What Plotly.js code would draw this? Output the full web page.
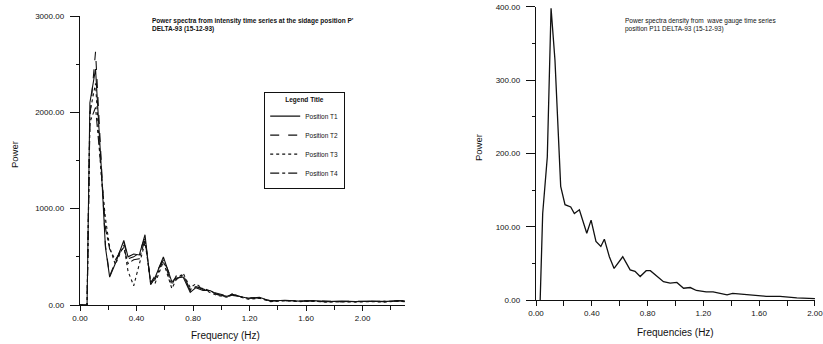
<!DOCTYPE html>
<html>
<head>
<meta charset="utf-8">
<script src="https://cdn.plot.ly/plotly-3.0.1.min.js"></script>
<style>html,body{margin:0;padding:0;background:#fff;}#chart{width:823px;height:344px;}</style>
</head>
<body>
<div id="chart"></div>
<script>
// ---- Left chart data: power spectra from intensity time series ----
const freqLeft = [0.00, 0.05, 0.07, 0.11, 0.15, 0.18, 0.21, 0.25, 0.31, 0.34, 0.38, 0.42, 0.46, 0.50, 0.53, 0.59, 0.65, 0.68, 0.73, 0.78, 0.82, 0.87, 0.92, 0.97, 1.04, 1.08, 1.14, 1.19, 1.27, 1.35, 1.45, 1.55, 1.65, 1.75, 1.85, 1.95, 2.05, 2.15, 2.25, 2.30];
const powerT1 = [0, 0, 2100, 2450, 1440, 600, 290, 430, 670, 500, 530, 520, 730, 210, 280, 500, 240, 280, 290, 130, 180, 150, 150, 110, 90, 110, 85, 70, 80, 40, 50, 40, 45, 35, 40, 35, 40, 35, 45, 40];
const powerT2 = [0, 0, 1950, 2630, 1500, 620, 300, 450, 650, 480, 500, 540, 700, 230, 300, 480, 260, 270, 300, 150, 200, 160, 140, 120, 95, 100, 90, 75, 70, 45, 45, 45, 40, 40, 35, 40, 35, 40, 40, 45];
const powerT3 = [0, 0, 2000, 2300, 1350, 900, 600, 420, 620, 350, 200, 430, 650, 250, 220, 450, 170, 260, 330, 180, 220, 170, 130, 100, 80, 120, 80, 60, 70, 35, 45, 35, 40, 30, 35, 30, 35, 30, 40, 35];
const powerT4 = [0, 0, 1900, 2050, 1400, 800, 580, 470, 600, 430, 470, 480, 680, 240, 260, 470, 210, 300, 310, 160, 190, 170, 150, 110, 85, 105, 90, 70, 75, 40, 45, 40, 40, 35, 35, 35, 40, 35, 40, 40];
const seriesNames = ["Position T1", "Position T2", "Position T3", "Position T4"];

// ---- Right chart data: power spectra density from wave gauge ----
const freqRight = [0.03, 0.048, 0.081, 0.108, 0.136, 0.177, 0.208, 0.249, 0.275, 0.311, 0.364, 0.395, 0.43, 0.465, 0.49, 0.526, 0.56, 0.622, 0.675, 0.71, 0.747, 0.79, 0.82, 0.866, 0.914, 0.962, 1.01, 1.058, 1.106, 1.15, 1.22, 1.27, 1.37, 1.41, 1.53, 1.65, 1.75, 1.87, 2.00];
const psdRight = [0, 118, 195, 398, 327, 155, 130, 127, 118, 123, 91, 109, 80, 73, 83, 59, 43, 59, 41, 39, 32, 40, 40, 32, 25, 23, 24, 16, 17, 13, 11, 11, 7, 9, 7, 5, 5, 3, 2];

const leftSeries = [powerT1, powerT2, powerT3, powerT4];
const dashes = ["solid", "dash", "dot", "dashdot"];

const traces = leftSeries.map((vals, i) => ({
  x: freqLeft, y: vals, type: "scatter", mode: "lines",
  name: seriesNames[i], xaxis: "x", yaxis: "y",
  line: {color: "#111", width: 1.1, dash: dashes[i]}
}));
traces.push({
  x: freqRight, y: psdRight, type: "scatter", mode: "lines",
  name: "P11", xaxis: "x2", yaxis: "y2", showlegend: false,
  line: {color: "#111", width: 1.3}
});

const W = 823, H = 344;
const px = v => v / W;
const py = v => 1 - v / H;
const fontFam = "Liberation Sans, Arial, sans-serif";
const tickFont = {family: fontFam, size: 8, color: "#111"};

const baseAxis = {
  showgrid: false, zeroline: false, showline: true, linecolor: "#111", linewidth: 1.3,
  ticks: "outside", tickcolor: "#111", tickfont: tickFont, fixedrange: true,
  ticklabeloverflow: "allow"
};

const layout = {
  width: W, height: H,
  margin: {l: 0, r: 0, t: 0, b: 0},
  paper_bgcolor: "#fff", plot_bgcolor: "rgba(0,0,0,0)",
  showlegend: true,
  legend: {
    x: px(264), y: py(92), xanchor: "left", yanchor: "top",
    bordercolor: "#111", borderwidth: 1.2, bgcolor: "#fff",
    font: {family: fontFam, size: 6.5, color: "#111"},
    title: {text: "<b>Legend Title</b>", side: "top center", font: {family: fontFam, size: 6.5, color: "#111"}},
    itemwidth: 30, tracegroupgap: 0
  },
  xaxis: Object.assign({}, baseAxis, {
    domain: [px(80), px(405)], range: [0, 2.3], anchor: "y",
    tickvals: [0, 0.4, 0.8, 1.2, 1.6, 2.0], tickformat: ".2f", ticklen: 5,
    minor: {dtick: 0.2, tick0: 0, ticks: "outside", ticklen: 4, tickcolor: "#111"}
  }),
  yaxis: Object.assign({}, baseAxis, {
    domain: [1 - 305 / H, 1 - 16 / H], range: [0, 3000.5], anchor: "x",
    tickvals: [0, 1000, 2000, 3000], tickformat: ".2f", ticklen: 9,
    ticklabelstandoff: 4,
    minor: {dtick: 500, tick0: 0, ticks: "outside", ticklen: 3, tickcolor: "#111"}
  }),
  xaxis2: Object.assign({}, baseAxis, {
    domain: [px(536), px(815)], range: [0, 2.0005], anchor: "y2",
    tickvals: [0, 0.4, 0.8, 1.2, 1.6, 2.0], tickformat: ".2f", ticklen: 5,
    minor: {dtick: 0.2, tick0: 0, ticks: "outside", ticklen: 5, tickcolor: "#111"}
  }),
  yaxis2: Object.assign({}, baseAxis, {
    domain: [1 - 300 / H, 1 - 6.7 / H], range: [0, 400.1], anchor: "x2",
    tickvals: [0, 100, 200, 300, 400], tickformat: ".2f", ticklen: 9,
    ticklabelstandoff: 4,
    minor: {dtick: 50, tick0: 0, ticks: "outside", ticklen: 3, tickcolor: "#111"}
  }),
  annotations: [
    {xref: "paper", yref: "paper", x: px(150), y: py(15), xanchor: "left", yanchor: "top", align: "left", showarrow: false,
     text: "<b>Power spectra from intensity time series at the sidage position P'<br>DELTA-93 (15-12-93)</b>",
     font: {family: fontFam, size: 6.5, color: "#111"}},
    {xref: "paper", yref: "paper", x: px(623), y: py(15), xanchor: "left", yanchor: "top", align: "left", showarrow: false,
     text: "Power spectra density from  wave gauge time series<br>position P11 DELTA-93 (15-12-93)",
     font: {family: fontFam, size: 6.5, color: "#111"}},
    {xref: "paper", yref: "paper", x: px(14), y: py(155), xanchor: "center", yanchor: "middle", textangle: -90, showarrow: false,
     text: "Power", font: {family: fontFam, size: 9.5, color: "#111"}},
    {xref: "paper", yref: "paper", x: px(225), y: py(335), xanchor: "center", yanchor: "middle", showarrow: false,
     text: "Frequency (Hz)", font: {family: fontFam, size: 10, color: "#111"}},
    {xref: "paper", yref: "paper", x: px(478), y: py(148), xanchor: "center", yanchor: "middle", textangle: -90, showarrow: false,
     text: "Power", font: {family: fontFam, size: 9.5, color: "#111"}},
    {xref: "paper", yref: "paper", x: px(675), y: py(332), xanchor: "center", yanchor: "middle", showarrow: false,
     text: "Frequencies (Hz)", font: {family: fontFam, size: 10, color: "#111"}}
  ]
};

Plotly.newPlot("chart", traces, layout, {displayModeBar: false, staticPlot: true});
</script>
</body>
</html>
